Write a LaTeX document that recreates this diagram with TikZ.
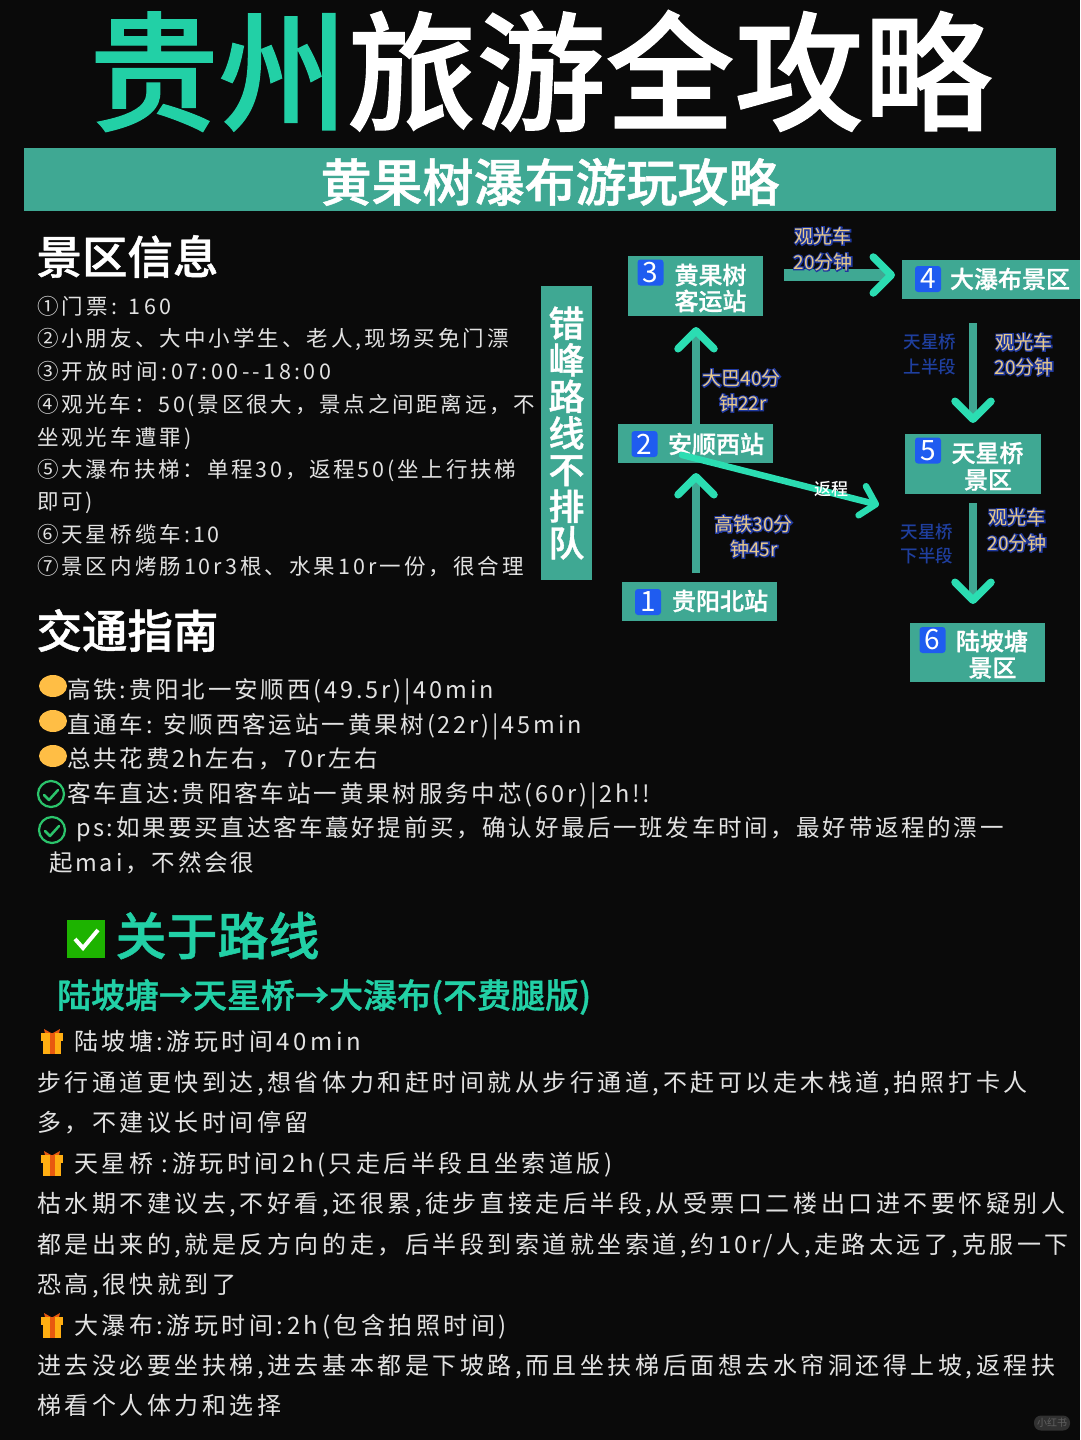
\documentclass[tikz,border=0pt]{standalone}
\usepackage{fontspec}
\usetikzlibrary{arrows.meta}
\setmainfont{Noto Sans CJK SC}
\newfontfamily\cjkM[UprightFont=* Medium]{Noto Sans CJK SC}
\newfontfamily\cjkH[UprightFont=* Medium,FakeBold=1]{Noto Sans CJK SC}
\newfontfamily\cjkA[LetterSpace=14]{Noto Sans CJK SC}
\newfontfamily\cjkE[LetterSpace=13]{Noto Sans CJK SC}
\newfontfamily\cjkD[LetterSpace=16]{Noto Sans CJK SC}
\newfontfamily\cjkB[LetterSpace=12.2]{Noto Sans CJK SC}
\newfontfamily\cjkF[LetterSpace=11.4]{Noto Sans CJK SC}
\newfontfamily\cjkC[LetterSpace=14.7]{Noto Sans CJK SC}
\definecolor{bg}{HTML}{0A0A0A}
\definecolor{band}{HTML}{3FA893}
\definecolor{acc}{HTML}{2BDDB2}
\definecolor{ttl}{HTML}{22D0A6}
\definecolor{txt}{HTML}{E2E2E2}
\definecolor{chip}{HTML}{1F5CF0}
\definecolor{ylw}{HTML}{FFBE45}
\definecolor{grn}{HTML}{2BC46B}
\definecolor{lab}{HTML}{E8C98A}
\definecolor{dblue}{HTML}{1F3F9F}
\definecolor{giftb}{HTML}{FFAE12}
\definecolor{giftr}{HTML}{E8590F}
\newcommand{\outl}[1]{\rlap{\special{pdf:code q 2 Tr 2.4 w 0.12 0.22 0.62 RG 0.12 0.22 0.62 rg}#1\special{pdf:code Q}}#1}
\newcommand{\fs}[1]{\fontsize{#1}{#1}\selectfont}
\tikzset{
 every node/.style={inner sep=0pt,outer sep=0pt},
 box/.style={fill=band,anchor=north west},
 chipn/.style={fill=chip,rounded corners=3pt,text=white,minimum width=26pt,minimum height=26pt,font=\fs{28}},
 boxt/.style={text=white,font=\fs{24}\cjkH},
 la/.style={text=lab,font=\fs{19},align=center},
 lb/.style={text=dblue,font=\fs{17.5}\cjkM,align=center},
 lineA/.style={anchor=base west,text=txt,font=\fs{21.5}\cjkA},
 lineE/.style={anchor=base west,text=txt,font=\fs{21.5}\cjkE},
 lineD/.style={anchor=base west,text=txt,font=\fs{21.5}\cjkD},
 lineB/.style={anchor=base west,text=txt,font=\fs{23.5}\cjkB},
 lineF/.style={anchor=base west,text=txt,font=\fs{23.5}\cjkF},
 lineC/.style={anchor=base west,text=txt,font=\fs{24}\cjkC},
 head/.style={anchor=base west,text=white,font=\fs{45.5}\cjkH},
 conn/.style={draw=band,line width=7.5pt,-{Straight Barb[length=18pt,width=36pt,line width=7.5pt,round,color=acc]}},
 ret/.style={draw=acc,line width=6.5pt,line cap=round,-{Straight Barb[length=14pt,width=30pt,line width=6.5pt,round,color=acc]}},
}
\newcommand{\gift}[2]{%
 \fill[giftr] (#1-1,#2-8) -- (#1-8,#2-12) -- (#1-7,#2-8) -- cycle;
 \fill[giftr] (#1+1,#2-8) -- (#1+8,#2-12) -- (#1+7,#2-8) -- cycle;
 \fill[giftb] (#1-11,#2-8) rectangle (#1+11,#2-.5);
 \fill[giftb] (#1-9,#2) rectangle (#1+9,#2+13);
 \fill[giftr] (#1-2.5,#2-8) rectangle (#1+2.5,#2+13);
}
\begin{document}
\begin{tikzpicture}[x=1pt,y=-1pt]
\useasboundingbox (0,0) rectangle (1080,1440);
\fill[bg] (0,0) rectangle (1080,1440);
% title
\node[anchor=center,font=\fs{129}\cjkH] (title) at (541,71) {\textcolor{ttl}{贵州}\textcolor{white}{旅游全攻略}};
\node[box,minimum width=1032pt,minimum height=63pt] (band) at (24,148) {};
\node[text=white,font=\fs{51}\cjkH] (sub) at (550,182) {黄果树瀑布游玩攻略};
% info
\node[head] (h1) at (36.5,274) {景区信息};
\node[lineD] (a1) at (37,314) {①门票: 160};
\node[lineA] (a2) at (37,346) {②小朋友、大中小学生、老人,现场买免门漂};
\node[lineD] (a3) at (37,379) {③开放时间:07:00--18:00};
\node[lineE] (a4) at (37,412) {④观光车：50(景区很大，景点之间距离远，不};
\node[lineA] (a5) at (37,445) {坐观光车遭罪)};
\node[lineE] (a6) at (37,477) {⑤大瀑布扶梯：单程30，返程50(坐上行扶梯};
\node[lineA] (a7) at (37,509) {即可)};
\node[lineA] (a8) at (37,542) {⑥天星桥缆车:10};
\node[lineA] (a9) at (37,574) {⑦景区内烤肠10r3根、水果10r一份，很合理};
% side
\node[box,minimum width=51pt,minimum height=294pt] (side) at (541,286) {};
\node[text=white,font=\fs{36}\cjkH,align=center] (sidet) at (566.5,433) {错\\[0.6pt]峰\\[0.6pt]路\\[0.6pt]线\\[0.6pt]不\\[0.6pt]排\\[0.6pt]队};
% route boxes
\node[box,minimum width=135pt,minimum height=60pt] (n3) at (628,256) {};
\node[box,minimum width=178pt,minimum height=39pt] (n4) at (902,260) {};
\node[box,minimum width=155pt,minimum height=39pt] (n2) at (618,424) {};
\node[box,minimum width=155pt,minimum height=39pt] (n1) at (622,582) {};
\node[box,minimum width=136pt,minimum height=60pt] (n5) at (905,434) {};
\node[box,minimum width=135.5pt,minimum height=59pt] (n6) at (909.5,623) {};
\node[chipn] (c3) at (650.5,272.5) {3};
\node[chipn] (c4) at (928,279) {4};
\node[chipn] (c2) at (644.5,444) {2};
\node[chipn] (c1) at (648,602) {1};
\node[chipn] (c5) at (928,450.5) {5};
\node[chipn] (c6) at (932.5,640) {6};
\node[boxt] (t3a) at (710.5,275) {黄果树};
\node[boxt] (t3b) at (710.5,301) {客运站};
\node[boxt] (t4) at (1010,279) {大瀑布景区};
\node[boxt] (t2) at (716,444) {安顺西站};
\node[boxt] (t1) at (720,601) {贵阳北站};
\node[boxt] (t5a) at (987.5,453) {天星桥};
\node[boxt] (t5b) at (988,480) {景区};
\node[boxt] (t6a) at (992,641) {陆坡塘};
\node[boxt] (t6b) at (992.5,668) {景区};
% connectors
\draw[conn,shorten <=9pt,shorten >=10pt] ([xshift=-3.5pt]n1.north) -- ([xshift=.5pt]n2.south);
\draw[conn,shorten >=11pt] ([xshift=.5pt]n2.north) -- ([xshift=.5pt]n3.south);
\draw[conn,line width=12pt,shorten <=21pt,shorten >=7pt] ([yshift=11pt]n3.east) -- ([yshift=4.5pt]n4.west);
\draw[conn,shorten <=24pt,shorten >=11pt] ([xshift=-18pt]n4.south) -- (n5.north);
\draw[conn,shorten <=9pt,shorten >=19pt] (n5.south) -- ([xshift=-4.25pt]n6.north);
\coordinate (retend) at (879,505);
\draw[ret] ([shift={(-13.5pt,-11.5pt)}]n2.center) -- (retend);
% labels
\node[la] (l1a) at (823,236) {\outl{观光车}};
\node[la] (l1b) at (823,262) {\outl{20分钟}};
\node[la] (l2a) at (741.5,378) {\outl{大巴40分}};
\node[la] (l2b) at (743,403) {\outl{钟22r}};
\node[la] (l3a) at (753.5,524) {\outl{高铁30分}};
\node[la] (l3b) at (754,549) {\outl{钟45r}};
\node[la] (l4a) at (1024,342) {\outl{观光车}};
\node[la] (l4b) at (1024,367) {\outl{20分钟}};
\node[lb] (l5a) at (930,342) {天星桥};
\node[lb] (l5b) at (930,367) {上半段};
\node[la] (l6a) at (1017,517) {\outl{观光车}};
\node[la] (l6b) at (1017,543) {\outl{20分钟}};
\node[lb] (l7a) at (927,532) {天星桥};
\node[lb] (l7b) at (927,556) {下半段};
\node[text=white,font=\fs{17}\cjkM] (l8) at (831,489) {返程};
% traffic
\node[head] (h2) at (36.5,648) {交通指南};
\fill[ylw] (53,686) ellipse (14 and 11);
\fill[ylw] (53,721) ellipse (14 and 11);
\fill[ylw] (53,756) ellipse (14 and 11);
\node[lineB] (b1) at (67,698) {高铁:贵阳北一安顺西(49.5r)|40min};
\node[lineB] (b2) at (67,733) {直通车: 安顺西客运站一黄果树(22r)|45min};
\node[lineB] (b3) at (67,767) {总共花费2h左右，70r左右};
\node[lineB] (b4) at (67,802) {客车直达:贵阳客车站一黄果树服务中芯(60r)|2h!!};
\node[lineF] (b5) at (76,836) {ps:如果要买直达客车蕞好提前买，确认好最后一班发车时间，最好带返程的漂一};
\node[lineB] (b6) at (49,871) {起mai，不然会很};
\draw[grn,line width=2.2pt] (51,794) circle (13);
\draw[grn,line width=2.5pt,line cap=round,line join=round] (44,795) -- (49,800) -- (58,790);
\draw[grn,line width=2.2pt] (52,830) circle (13);
\draw[grn,line width=2.5pt,line cap=round,line join=round] (45,831) -- (50,836) -- (59,826);
% routes
\fill[green!65!black!85!lime] (67,920) rectangle (105,958);
\draw[white,line width=4pt,line join=miter] (75,939) -- (83,948) -- (98,930);
\node[anchor=base west,text=ttl,font=\fs{51}\cjkH] (h3) at (115.5,955) {关于路线};
\node[anchor=base west,text=ttl,font=\fs{34}\cjkH] (h4) at (57,1008) {陆坡塘→天星桥→大瀑布(不费腿版)};
\gift{52}{1041}
\gift{52}{1163}
\gift{52}{1325}
\node[lineC] (r1) at (74,1050) {陆坡塘:游玩时间40min};
\node[lineC] (r2) at (37,1091) {步行通道更快到达,想省体力和赶时间就从步行通道,不赶可以走木栈道,拍照打卡人};
\node[lineC] (r3) at (37,1131) {多，不建议长时间停留};
\node[lineC] (r4) at (74,1172) {天星桥 :游玩时间2h(只走后半段且坐索道版)};
\node[lineC] (r5) at (37,1212) {枯水期不建议去,不好看,还很累,徒步直接走后半段,从受票口二楼出口进不要怀疑别人};
\node[lineC] (r6) at (37,1253) {都是出来的,就是反方向的走，后半段到索道就坐索道,约10r/人,走路太远了,克服一下};
\node[lineC] (r7) at (37,1293) {恐高,很快就到了};
\node[lineC] (r8) at (74,1334) {大瀑布:游玩时间:2h(包含拍照时间)};
\node[lineC] (r9) at (37,1374) {进去没必要坐扶梯,进去基本都是下坡路,而且坐扶梯后面想去水帘洞还得上坡,返程扶};
\node[lineC] (r10) at (37,1414) {梯看个人体力和选择};
% watermark
\node[fill=white!16!bg,rounded corners=7pt,minimum width=36pt,minimum height=15pt,text=white!35!bg,font=\fs{10}] (wm) at (1052,1423) {小红书};
\end{tikzpicture}
\end{document}
